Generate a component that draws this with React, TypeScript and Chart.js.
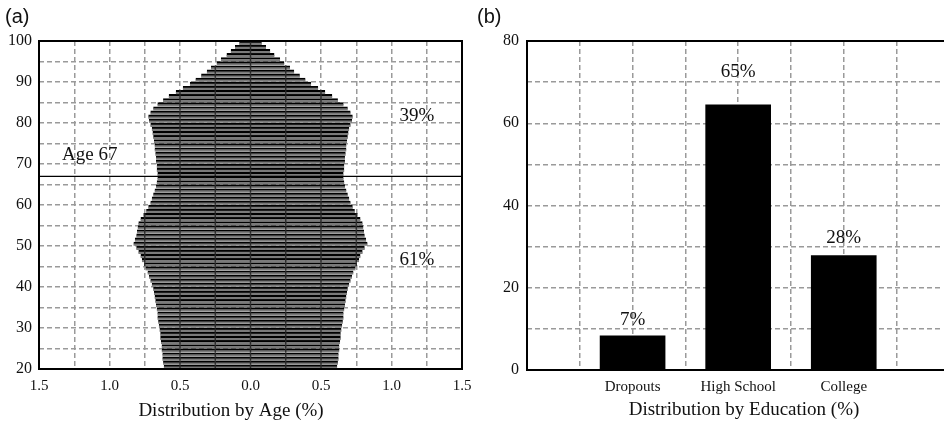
import React, { useEffect, useRef } from 'react';
import { Chart, registerables } from 'chart.js';

Chart.register(...registerables);

// ---------- Data ----------
const ages = [
  20, 21, 22, 23, 24, 25, 26, 27, 28, 29,
  30, 31, 32, 33, 34, 35, 36, 37, 38, 39,
  40, 41, 42, 43, 44, 45, 46, 47, 48, 49,
  50, 51, 52, 53, 54, 55, 56, 57, 58, 59,
  60, 61, 62, 63, 64, 65, 66, 67, 68, 69,
  70, 71, 72, 73, 74, 75, 76, 77, 78, 79,
  80, 81, 82, 83, 84, 85, 86, 87, 88, 89,
  90, 91, 92, 93, 94, 95, 96, 97, 98, 99,
];
// share of population at each age (%), drawn symmetrically around 0
const ageShare = [
  0.615, 0.62, 0.625, 0.625, 0.63, 0.63, 0.635, 0.64, 0.64, 0.645,
  0.65, 0.655, 0.66, 0.66, 0.665, 0.67, 0.675, 0.68, 0.685, 0.69,
  0.70, 0.71, 0.72, 0.73, 0.745, 0.755, 0.77, 0.78, 0.795, 0.81,
  0.83, 0.82, 0.81, 0.805, 0.80, 0.795, 0.78, 0.76, 0.74, 0.725,
  0.71, 0.70, 0.69, 0.68, 0.67, 0.665, 0.66, 0.66, 0.665, 0.665,
  0.67, 0.67, 0.675, 0.68, 0.68, 0.685, 0.69, 0.695, 0.70, 0.71,
  0.72, 0.725, 0.71, 0.69, 0.66, 0.62, 0.58, 0.53, 0.48, 0.43,
  0.39, 0.35, 0.31, 0.28, 0.24, 0.21, 0.17, 0.14, 0.11, 0.08,
];
const cutoffAge = 67;
const ageGroupLabels = ['39%', '61%'];
const ageXTitle = 'Distribution by Age (%)';

const eduCategories = ['Dropouts', 'High School', 'College'];
const eduValues = [8.3, 64.5, 27.8];
const eduLabels = ['7%', '65%', '28%'];
const eduXTitle = 'Distribution by Education (%)';

// ---------- Styles ----------
const SERIF = '"Liberation Serif", "Times New Roman", serif';
const SANS = '"Liberation Sans", Arial, sans-serif';
const GRID = '#9a9a9a';

const xTickFont = { family: SERIF, size: 15 };
const yTickFont = { family: SERIF, size: 16 };

const noPad = (s: any) => {
  s.paddingLeft = 0;
  s.paddingRight = 0;
  s.paddingTop = 0;
  s.paddingBottom = 0;
};

// grid lines seen through the bars appear dark
const barGridPlugin = {
  id: 'barGrid',
  afterDatasetsDraw(chart: any) {
    const { ctx, scales } = chart;
    const xs = scales.x;
    const meta = chart.getDatasetMeta(0);
    ctx.save();
    ctx.strokeStyle = '#2a2a2a';
    ctx.lineWidth = 1.4;
    xs.ticks.forEach((t: any) => {
      const px = xs.getPixelForValue(t.value);
      ctx.beginPath();
      meta.data.forEach((el: any) => {
        const lo = Math.min(el.x, el.base);
        const hi = Math.max(el.x, el.base);
        if (px > lo + 0.5 && px < hi - 0.5) {
          ctx.moveTo(px, el.y - el.height / 2);
          ctx.lineTo(px, el.y + el.height / 2);
        }
      });
      ctx.stroke();
    });
    ctx.restore();
  },
};

const leftFramePlugin = {
  id: 'leftFrame',
  afterDraw(chart: any) {
    const { ctx, chartArea: a, scales } = chart;
    ctx.save();
    const yl = scales.y.getPixelForValue(cutoffAge);
    ctx.strokeStyle = '#000';
    ctx.lineWidth = 1.2;
    ctx.beginPath();
    ctx.moveTo(a.left, yl);
    ctx.lineTo(a.right, yl);
    ctx.stroke();
    ctx.lineWidth = 2;
    ctx.strokeRect(a.left, a.top, a.right - a.left, a.bottom - a.top);
    ctx.fillStyle = '#111';
    ctx.font = `19px ${SERIF}`;
    ctx.textAlign = 'center';
    ctx.textBaseline = 'middle';
    ctx.fillText(`Age ${cutoffAge}`, scales.x.getPixelForValue(-1.14), scales.y.getPixelForValue(72.3));
    ctx.fillText(ageGroupLabels[0], scales.x.getPixelForValue(1.18), scales.y.getPixelForValue(81.7));
    ctx.fillText(ageGroupLabels[1], scales.x.getPixelForValue(1.18), scales.y.getPixelForValue(46.6));
    ctx.fillText(ageXTitle, 231, 411);
    ctx.font = `20px ${SANS}`;
    ctx.textAlign = 'left';
    ctx.fillText('(a)', 5, 17);
    ctx.restore();
  },
};

const labelLift = [16, 33, 18];

const rightFramePlugin = {
  id: 'rightFrame',
  afterDraw(chart: any) {
    const { ctx, chartArea: a } = chart;
    ctx.save();
    ctx.strokeStyle = '#000';
    ctx.lineWidth = 2;
    ctx.beginPath();
    ctx.moveTo(a.right + 2, a.top);
    ctx.lineTo(a.left, a.top);
    ctx.lineTo(a.left, a.bottom);
    ctx.lineTo(a.right + 2, a.bottom);
    ctx.stroke();
    ctx.fillStyle = '#111';
    ctx.font = `19px ${SERIF}`;
    ctx.textAlign = 'center';
    ctx.textBaseline = 'middle';
    const meta = chart.getDatasetMeta(0);
    meta.data.forEach((el: any, i: number) => {
      ctx.fillText(eduLabels[i], el.x, el.y - labelLift[i]);
    });
    ctx.fillText(eduXTitle, 274, 410);
    ctx.font = `20px ${SANS}`;
    ctx.textAlign = 'left';
    ctx.fillText('(b)', 7, 17);
    ctx.restore();
  },
};

function AgeChart() {
  const ref = useRef<HTMLCanvasElement>(null);
  useEffect(() => {
    if (!ref.current) return;
    const chart = new Chart(ref.current, {
      type: 'bar',
      data: {
        datasets: [
          {
            data: ages.map((a, i) => ({ y: a + 0.5, x: [-ageShare[i], ageShare[i]] })) as any,
            backgroundColor: '#7a7a7a',
            borderColor: '#000',
            borderWidth: { top: 2.1, bottom: 0, left: 0, right: 0 } as any,
            borderSkipped: false,
            barThickness: 3.8,
          },
        ],
      },
      options: {
        indexAxis: 'y',
        animation: false,
        responsive: false,
        maintainAspectRatio: false,
        layout: { padding: { top: 41, right: 18, left: 0, bottom: 0 } },
        plugins: { legend: { display: false }, tooltip: { enabled: false } },
        scales: {
          x: {
            type: 'linear',
            min: -1.5,
            max: 1.5,
            ticks: {
              stepSize: 0.25,
              autoSkip: false,
              maxRotation: 0,
              padding: 8,
              color: '#111',
              font: xTickFont,
              callback: (v: any) => (Math.abs(v * 2 - Math.round(v * 2)) < 1e-6 ? Math.abs(v).toFixed(1) : ''),
            },
            grid: { color: GRID, lineWidth: 1.5, drawTicks: false },
            border: { display: false, dash: [5, 3] },
            afterFit: (s: any) => { s.height = 54; noPad(s); },
          },
          y: {
            type: 'linear',
            min: 20,
            max: 100,
            offset: false,
            ticks: {
              stepSize: 5,
              autoSkip: false,
              padding: 7,
              color: '#111',
              font: yTickFont,
              callback: (v: any) => (v % 10 === 0 ? String(v) : ''),
            },
            grid: { color: GRID, lineWidth: 1.5, drawTicks: false, offset: false },
            border: { display: false, dash: [5, 3] },
            afterFit: (s: any) => { s.width = 39; noPad(s); },
          },
        },
      } as any,
      plugins: [barGridPlugin, leftFramePlugin],
    });
    return () => chart.destroy();
  }, []);
  return <canvas ref={ref} width={480} height={423} style={{ display: 'block' }} />;
}

function EduChart() {
  const ref = useRef<HTMLCanvasElement>(null);
  useEffect(() => {
    if (!ref.current) return;
    const chart = new Chart(ref.current, {
      type: 'bar',
      data: {
        datasets: [
          {
            data: eduValues.map((v, i) => ({ x: (i + 1) * 2, y: v })) as any,
            backgroundColor: '#000',
            borderWidth: 0,
            barThickness: 65,
          },
        ],
      },
      options: {
        animation: false,
        responsive: false,
        maintainAspectRatio: false,
        layout: { padding: { top: 41, right: 1, left: 0, bottom: 0 } },
        plugins: { legend: { display: false }, tooltip: { enabled: false } },
        scales: {
          x: {
            type: 'linear',
            min: 0,
            max: 7.88,
            bounds: 'data',
            offset: false,
            ticks: {
              stepSize: 1,
              includeBounds: false,
              autoSkip: false,
              maxRotation: 0,
              padding: 8,
              color: '#111',
              font: xTickFont,
              callback: (v: any) => {
                const idx = v / 2 - 1;
                return Number.isInteger(idx) && idx >= 0 && idx < eduCategories.length ? eduCategories[idx] : '';
              },
            },
            grid: { color: GRID, lineWidth: 1.5, drawTicks: false, offset: false },
            border: { display: false, dash: [5, 3] },
            afterFit: (s: any) => { s.height = 53; noPad(s); },
          },
          y: {
            type: 'linear',
            min: 0,
            max: 80,
            ticks: {
              stepSize: 10,
              autoSkip: false,
              padding: 8,
              color: '#111',
              font: yTickFont,
              callback: (v: any) => (v % 20 === 0 ? String(v) : ''),
            },
            grid: { color: GRID, lineWidth: 1.5, drawTicks: false },
            border: { display: false, dash: [5, 3] },
            afterFit: (s: any) => { s.width = 57; noPad(s); },
          },
        },
      } as any,
      plugins: [rightFramePlugin],
    });
    return () => chart.destroy();
  }, []);
  return <canvas ref={ref} width={474} height={423} style={{ display: 'block' }} />;
}

export default function App() {
  return (
    <div style={{ position: 'absolute', left: 0, top: 0, width: 944, height: 423, background: '#fff', overflow: 'hidden' }}>
      <div style={{ position: 'absolute', left: 0, top: 0 }}>
        <AgeChart />
      </div>
      <div style={{ position: 'absolute', left: 470, top: 0 }}>
        <EduChart />
      </div>
    </div>
  );
}
